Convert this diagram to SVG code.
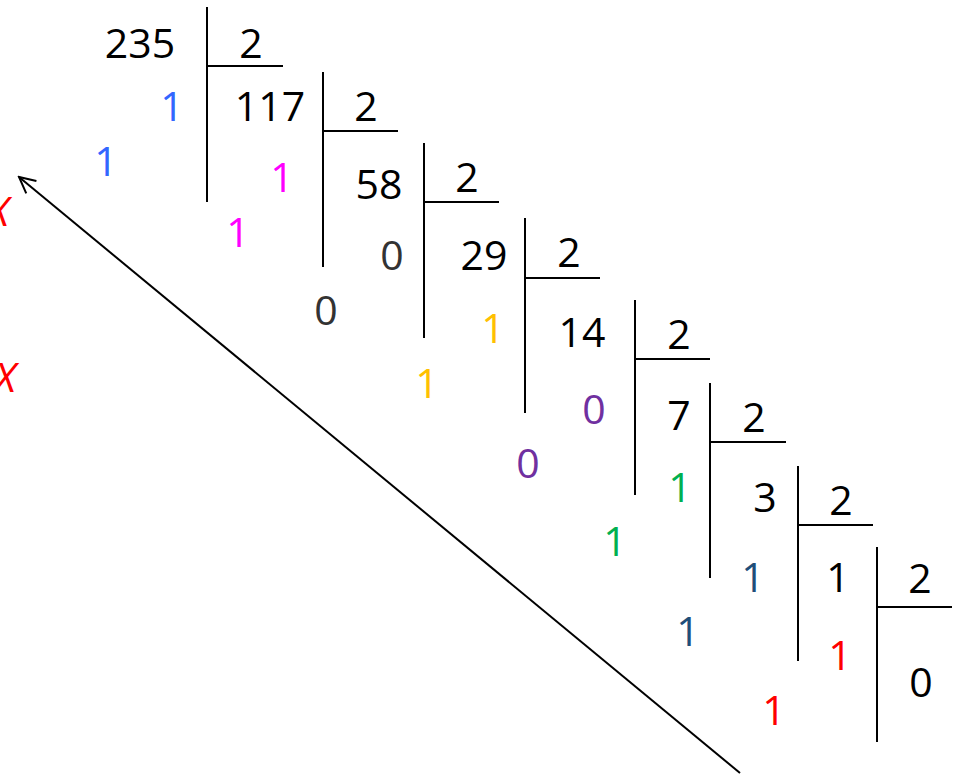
<svg xmlns="http://www.w3.org/2000/svg" width="961" height="775" viewBox="0 0 961 775">
<style>
text{font-family:"Open Sans","Liberation Sans",sans-serif;font-size:41px;text-anchor:middle;fill:#000}
.b{fill:#3366FF}.m{fill:#FF00FF}.g{fill:#333333}.y{fill:#FFC000}.p{fill:#7030A0}.gr{fill:#00B050}.n{fill:#1F4E79}.r{fill:#FF0000}
.x{fill:#FF0000;font-style:italic;text-anchor:end}
line{stroke:#000;stroke-width:2}
</style>
<defs>
<marker id="ah" viewBox="0 0 20 20" refX="18" refY="10" markerWidth="20" markerHeight="20" markerUnits="userSpaceOnUse" orient="auto">
<path d="M2,2 L18,10 L2,18" fill="none" stroke="#000" stroke-width="2"/>
</marker>
</defs>
<g id="div1"><line x1="207" y1="7" x2="207" y2="202"/><line x1="207" y1="66" x2="283" y2="66"/><text x="140" y="58">235</text><text x="251" y="58">2</text><text class="b" x="172" y="121">1</text></g>
<g id="div2"><line x1="323" y1="72" x2="323" y2="267"/><line x1="323" y1="131" x2="398" y2="131"/><text x="270" y="121">117</text><text x="366" y="121">2</text><text class="m" x="282" y="192">1</text></g>
<g id="div3"><line x1="424" y1="143" x2="424" y2="338"/><line x1="424" y1="202" x2="499" y2="202"/><text x="379" y="199">58</text><text x="467" y="192">2</text><text class="g" x="392" y="270">0</text></g>
<g id="div4"><line x1="525" y1="218" x2="525" y2="413"/><line x1="525" y1="278" x2="600" y2="278"/><text x="484" y="270">29</text><text x="569" y="267">2</text><text class="y" x="493" y="343">1</text></g>
<g id="div5"><line x1="635" y1="300" x2="635" y2="495"/><line x1="635" y1="359" x2="710" y2="359"/><text x="582" y="347">14</text><text x="679" y="349">2</text><text class="p" x="594" y="424">0</text></g>
<g id="div6"><line x1="710" y1="383" x2="710" y2="578"/><line x1="710" y1="442" x2="786" y2="442"/><text x="679" y="430">7</text><text x="754" y="432">2</text><text class="gr" x="680" y="502">1</text></g>
<g id="div7"><line x1="798" y1="466" x2="798" y2="661"/><line x1="798" y1="525" x2="873" y2="525"/><text x="765" y="512">3</text><text x="841" y="515">2</text><text class="n" x="753" y="592">1</text></g>
<g id="div8"><line x1="877" y1="547" x2="877" y2="742"/><line x1="877" y1="607" x2="952" y2="607"/><text x="838" y="592">1</text><text x="920" y="593">2</text><text class="r" x="840" y="670">1</text><text x="921" y="697">0</text></g>
<g id="bits">
<text class="b" x="106" y="176">1</text>
<text class="m" x="238" y="247">1</text>
<text class="g" x="326" y="325">0</text>
<text class="y" x="427" y="398">1</text>
<text class="p" x="528" y="478">0</text>
<text class="gr" x="615" y="556">1</text>
<text class="n" x="688" y="646">1</text>
<text class="r" x="774" y="725">1</text>
</g>
<g id="marks"><text class="x" x="9" y="226">X</text><text class="x" x="16" y="392">X</text></g>
<g id="connectors"><line x1="740" y1="773" x2="19" y2="177" marker-end="url(#ah)"/></g>
</svg>
